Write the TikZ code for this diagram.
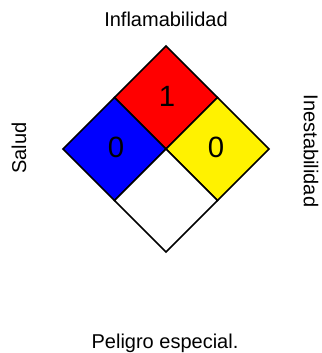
\documentclass[tikz,border=0pt]{standalone}
\usepackage{fontspec}
\setmainfont{Liberation Sans}
\tikzstyle{rombo}=[draw=black,line width=1.1pt,line join=miter]
\tikzstyle{etiqueta}=[font=\fontsize{15}{18}\selectfont,inner sep=0pt]
\tikzstyle{cifra}=[font=\fontsize{22}{26}\selectfont,inner sep=0pt]

\begin{document}
\begin{tikzpicture}[x=0.75pt,y=-0.75pt]
\useasboundingbox (0,0) rectangle (321,353);
\coordinate (centro) at (166,149);
% los cuatro rombos
\draw[rombo,fill=red] (centro)--++(-51.5,-51.5)--++(51.5,-51.5)--++(51.5,51.5)--cycle;
\draw[rombo,fill=blue] (centro)--++(-51.5,-51.5)--++(-51.5,51.5)--++(51.5,51.5)--cycle;
\draw[rombo,fill=yellow] (centro)--++(51.5,-51.5)--++(51.5,51.5)--++(-51.5,51.5)--cycle;
\draw[rombo,fill=white] (centro)--++(-51.5,51.5)--++(51.5,51.5)--++(51.5,-51.5)--cycle;
% cifras
\node[cifra] (inflam) at (167,96) {1};
\node[cifra] (salud) at (116,147) {0};
\node[cifra] (inest) at (216,147) {0};
% rotulos
\node[etiqueta] (arriba) at (166,19) {Inflamabilidad};
\node[etiqueta,rotate=90] (izq) at (19,148) {Salud};
\node[etiqueta,rotate=-90] (der) at (311,151) {Inestabilidad};
\node[etiqueta,anchor=base] (abajo) at (165,348.5) {Peligro especial.};
\end{tikzpicture}
\end{document}
